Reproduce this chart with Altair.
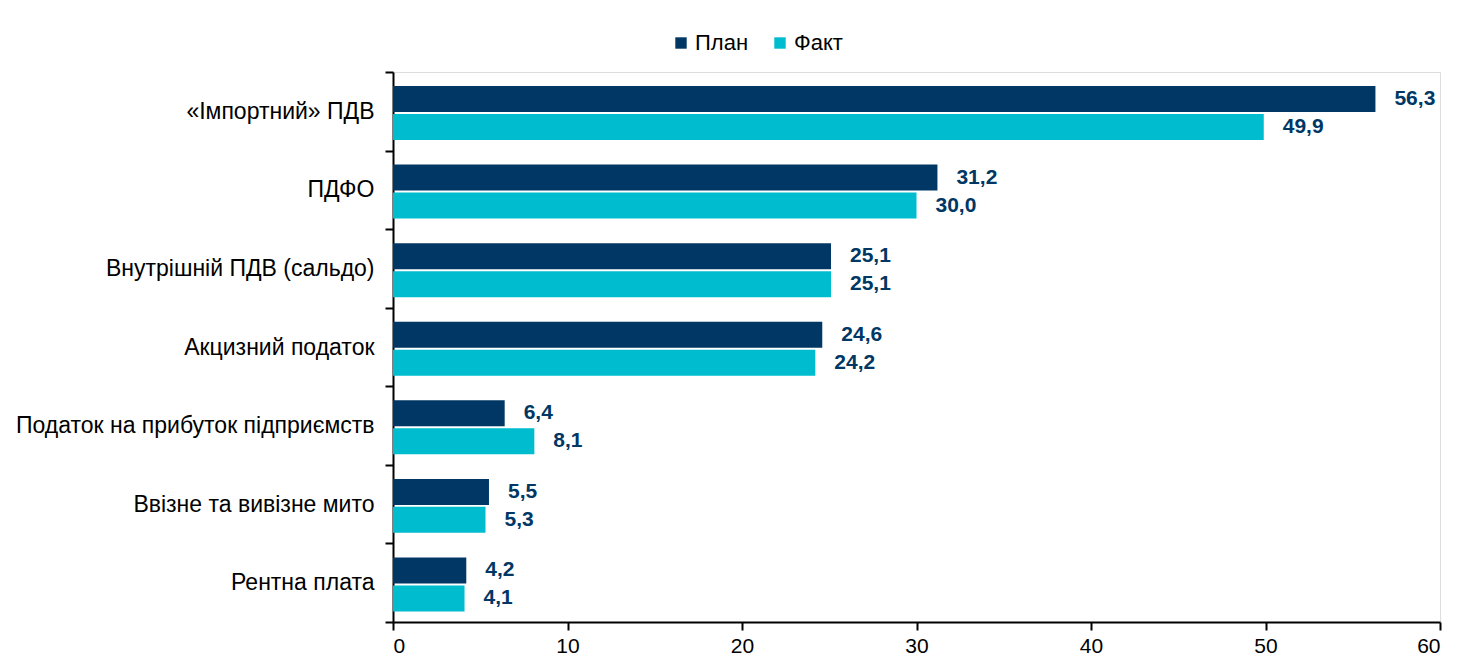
import altair as alt
import pandas as pd

categories = ["«Імпортний» ПДВ", "ПДФО", "Внутрішній ПДВ (сальдо)", "Акцизний податок",
              "Податок на прибуток підприємств", "Ввізне та вивізне мито", "Рентна плата"]
series = ["План", "Факт"]
plan = [56.3, 31.2, 25.1, 24.6, 6.4, 5.5, 4.2]
fact = [49.9, 30.0, 25.1, 24.2, 8.1, 5.3, 4.1]
x_ticks = [0, 10, 20, 30, 40, 50, 60]

rows = []
for c, p, f in zip(categories, plan, fact):
    for s, v in ((series[0], p), (series[1], f)):
        rows.append({"cat": c, "series": s, "value": v,
                     "label": f"{v:.1f}".replace(".", ",")})
df = pd.DataFrame(rows)

FONT = "Liberation Sans"
NAVY = "#003764"
CYAN = "#00BCCF"

y_enc = alt.Y("cat:N", sort=categories, title=None,
              scale=alt.Scale(paddingInner=0, paddingOuter=0),
              axis=alt.Axis(tickBand="extent", tickSize=8, tickWidth=2, tickColor="black",
                            domainColor="black", domainWidth=2, labelPadding=11,
                            labelFontSize=23, labelFont=FONT, labelColor="black",
                            labelLimit=500))
yoff = alt.YOffset("series:N", sort=series,
                   scale=alt.Scale(paddingInner=0.07, paddingOuter=0.44, align=0.57))
x_enc = alt.X("value:Q", title=None,
              scale=alt.Scale(domain=[0, 60], nice=False),
              axis=alt.Axis(values=x_ticks, grid=False, tickSize=8, tickWidth=2,
                            tickColor="black", domainColor="black", domainWidth=2,
                            labelFontSize=21, labelFont=FONT, labelColor="black",
                            labelPadding=5))

bars = alt.Chart(df).mark_bar().encode(
    y=y_enc, yOffset=yoff, x=x_enc,
    color=alt.Color("series:N", sort=series,
                    scale=alt.Scale(domain=series, range=[NAVY, CYAN]),
                    legend=alt.Legend(title=None, orient="none", legendX=277, legendY=-40,
                                      direction="horizontal", symbolType="square",
                                      symbolSize=130, symbolStrokeWidth=0,
                                      labelFontSize=22, labelFont=FONT, labelColor="black",
                                      labelOffset=3, columnPadding=20, padding=0))
)

labels = alt.Chart(df).mark_text(align="left", baseline="middle", dx=19,
                                 font=FONT, fontSize=21, fontWeight="bold",
                                 color=NAVY).encode(
    y=alt.Y("cat:N", sort=categories),
    yOffset=alt.YOffset("series:N", sort=series),
    x=alt.X("value:Q"), text="label:N")

chart = alt.layer(bars, labels).properties(
    width=1047, height=550,
    autosize=alt.AutoSizeParams(type="none"),
    padding={"left": 385, "top": 64, "right": 28, "bottom": 42},
).configure_view(stroke=None).configure(font=FONT)

chart.save("out.html", embed_options={"renderer": "svg", "actions": False})
